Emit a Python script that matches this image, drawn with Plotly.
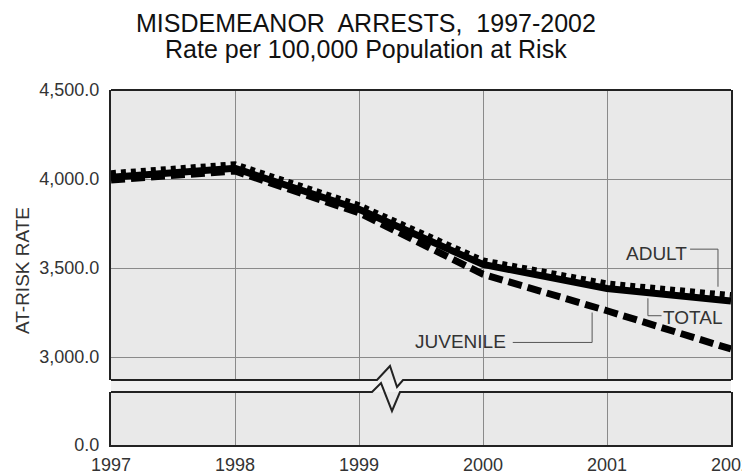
import plotly.graph_objects as go

# values
years = [1997, 1998, 1999, 2000, 2001, 2002]
total = [4010, 4060, 3830, 3520, 3385, 3315]
adult = [4030, 4080, 3850, 3540, 3410, 3345]
juvenile = [3995, 4045, 3810, 3465, 3260, 3045]

upper_ticks = [3000, 3500, 4000, 4500]
lower_ticks = [0]

FONT = "Liberation Sans, Arial, sans-serif"
GRID = "#8a8a8a"
FRAME = "#222222"

# the page body has an 8px margin, so the figure is 8px smaller than the window
OFF = 8
FIG_W, FIG_H = 750 - OFF, 475 - OFF

# plot area in page pixels (as measured on the reference)
L, R, T, B = 111, 731, 90, 445
W, H = R - L, B - T


def px(x):
    return (x - L) / W


def py(y):
    return (B - y) / H


upper_dom = [py(380), 1]
lower_dom = [0, py(392)]

fig = go.Figure()
fig.add_trace(go.Scatter(x=years, y=adult, mode="lines", name="ADULT",
                         line=dict(color="black", width=7, dash="5px,5px")))
fig.add_trace(go.Scatter(x=years, y=juvenile, mode="lines", name="JUVENILE",
                         line=dict(color="black", width=7, dash="14px,6px")))
fig.add_trace(go.Scatter(x=years, y=total, mode="lines", name="TOTAL",
                         line=dict(color="black", width=7)))
# keeps the lower (0.0) panel alive
fig.add_trace(go.Scatter(x=[], y=[], yaxis="y2", showlegend=False))

tickfont = dict(family=FONT, size=18, color="#333333")

fig.update_layout(
    width=FIG_W, height=FIG_H,
    margin=dict(l=L - OFF, r=FIG_W - (R - OFF), t=T - OFF, b=FIG_H - (B - OFF)),
    paper_bgcolor="white",
    plot_bgcolor="#e9e9e9",
    showlegend=False,
    xaxis=dict(domain=[0, 1], range=[1997, 2002], anchor="y2",
               tickvals=years, ticktext=[str(y) for y in years],
               showgrid=True, gridcolor=GRID, gridwidth=1,
               showline=True, linecolor=FRAME, linewidth=2,
               zeroline=False, ticks="", ticklabelstandoff=2,
               ticklabeloverflow="allow", automargin=False,
               tickfont=tickfont),
    yaxis=dict(domain=upper_dom, range=[2871, 4500], anchor="x",
               tickvals=upper_ticks, tickformat=",.1f",
               showgrid=True, gridcolor=GRID, gridwidth=1,
               showline=True, mirror=True, linecolor=FRAME, linewidth=2,
               zeroline=False, ticks="", ticklabelstandoff=6,
               ticklabeloverflow="allow", automargin=False,
               tickfont=tickfont),
    yaxis2=dict(domain=lower_dom, range=[0, 296], anchor="x",
                tickvals=lower_ticks, tickformat=",.1f",
                showgrid=False,
                showline=True, mirror=True, linecolor=FRAME, linewidth=2,
                zeroline=False, ticks="", ticklabelstandoff=6,
                ticklabeloverflow="allow", automargin=False,
                tickfont=tickfont),
)

# gap between the two panels and the broken-axis marks
fig.add_shape(type="rect", xref="paper", yref="paper",
              x0=0, x1=1, y0=lower_dom[1], y1=upper_dom[0],
              fillcolor="#f1f1f1", line_width=0, layer="below")


def path(points):
    return "M " + " L ".join(f"{px(a):.4f},{py(b):.4f}" for a, b in points)


upper_break = [(L, 380), (377, 380), (390, 366), (397, 387), (403, 380), (R, 380)]
lower_break = [(L, 392), (372, 392), (381, 383), (392, 411), (400, 392), (R, 392)]
for pts in (upper_break, lower_break):
    fig.add_shape(type="path", xref="paper", yref="paper", path=path(pts),
                  line=dict(color=FRAME, width=2))
fig.add_shape(type="line", xref="paper", yref="paper", x0=0, x1=1, y0=1, y1=1,
              line=dict(color=FRAME, width=2))

# series labels with leader lines (data coordinates)
labels = [
    ("ADULT", 2001.40, 3584, [(2001.67, 3606), (2001.895, 3606), (2001.895, 3395)]),
    ("TOTAL", 2001.69, 3221, [(2001.44, 3232), (2001.33, 3232), (2001.33, 3330)]),
    ("JUVENILE", 1999.82, 3087, [(2000.24, 3082), (2000.88, 3082), (2000.88, 3250)]),
]
for text, lx, ly, leader in labels:
    fig.add_annotation(x=lx, y=ly, xref="x", yref="y", text=text, showarrow=False,
                       xanchor="center", yanchor="middle",
                       font=dict(family=FONT, size=19, color="#333333"))
    fig.add_shape(type="path", xref="x", yref="y",
                  path="M " + " L ".join(f"{a},{b}" for a, b in leader),
                  line=dict(color="#555555", width=1))

# titles
fig.add_annotation(x=px(366), y=py(23), xref="paper", yref="paper",
                   xanchor="center", yanchor="middle",
                   text="MISDEMEANOR  ARRESTS,  1997-2002", showarrow=False,
                   font=dict(family=FONT, size=25, color="#111111"))
fig.add_annotation(x=px(366), y=py(49), xref="paper", yref="paper",
                   xanchor="center", yanchor="middle",
                   text="Rate per 100,000 Population at Risk", showarrow=False,
                   font=dict(family=FONT, size=25, color="#111111"))
fig.add_annotation(x=px(22), y=py(271), xref="paper", yref="paper",
                   xanchor="center", yanchor="middle",
                   text="AT-RISK RATE", textangle=-90, showarrow=False,
                   font=dict(family=FONT, size=19, color="#333333"))

fig.write_html("out.html")
